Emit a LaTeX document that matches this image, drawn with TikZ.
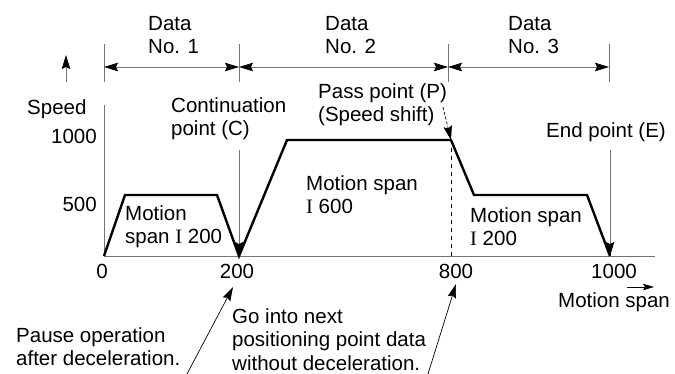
\documentclass[tikz,border=0pt]{standalone}
\usepackage{fontspec}
\setmainfont{Liberation Sans}
\newfontfamily\romanI{Liberation Serif}
\usetikzlibrary{arrows.meta}
\tikzset{
  dim/.style={black!55, line width=0.8pt},
  tip/.style={-{Stealth[black,length=14pt,width=8.5pt,inset=2pt]}},
  tips/.style={{Stealth[black,length=14pt,width=8.5pt,inset=2pt]}-{Stealth[black,length=14pt,width=8.5pt,inset=2pt]}},
  profile/.style={line width=2.4pt, line join=miter},
  lbl/.style={inner sep=0pt, align=left, anchor=north west},
  txt/.style={inner sep=0pt},
}
\begin{document}
\begin{tikzpicture}[x=1pt,y=-1pt,font=\fontsize{20.5}{23.5}\selectfont]
\useasboundingbox (0,0) rectangle (675,374);
% points on the speed curve
\coordinate (o) at (104,256);
\coordinate (c) at (239,256);
\coordinate (p) at (451,140);
\coordinate (pb) at (451,256);
\coordinate (e) at (610,256);
\coordinate (xend) at (655,256);
% data spans
\foreach \x/\n in {104/d0,239/d1,448/d2,609/d3}{
  \draw[dim] (\x,44) -- (\x,82);
  \coordinate (\n) at (\x,67);
}
\draw[dim,tips] (d0) -- (d1);
\draw[dim,tips] (d1) -- (d2);
\draw[dim,tips] (d2) -- (d3);
\node[lbl] (data1) at (148,16) {Data\\No. 1};
\node[lbl] (data2) at (325,16) {Data\\No. 2};
\node[lbl] (data3) at (508,16) {Data\\No. 3};
% axes
\coordinate (vtop) at (104,105);
\draw[dim] (vtop) -- (o) -- (xend);
\coordinate (sb) at (66,82);
\coordinate (st) at (66,55);
\draw[dim,tip] (sb) -- (st);
\node[txt,anchor=base west] (speed) at (27,115) {Speed};
\node[txt,anchor=base east] (v1000) at (97,144) {1000};
\node[txt,anchor=base east] (v500) at (97,212) {500};
\foreach \x/\t in {102/0,237/200,456/800,614/1000}
  \node[txt,anchor=base] (t\t) at (\x,279) {\t};
\coordinate (xa) at (627,287);
\coordinate (xb) at (654,287);
\draw[line width=0.8pt,-{Stealth[length=11pt,width=6.5pt,inset=2pt]}] (xa) -- (xb);
\node[txt,anchor=base west] (xlabel) at (558,308) {Motion span};
% speed curve
\draw[dashed,line width=0.8pt,dash pattern=on 4pt off 4pt] (p) -- (pb);
\draw[profile] (o) -- (125,195) -- (217,195) -- (c) -- (287,140) -- (p)
  -- (474,195) -- (587,195) -- (e);
\node[lbl] (span1) at (125,205) {Motion\\span {\romanI I} 200};
\node[lbl] (span2) at (306,175) {Motion span\\{\romanI I} 600};
\node[lbl] (span3) at (470,207) {Motion span\\{\romanI I} 200};
% marked points
\node[lbl] (cont) at (171,97) {Continuation\\point (C)};
\coordinate (ctop) at (239,150);
\draw[dim,tip] (ctop) -- (c);
\node[lbl] (pass) at (318,83) {Pass point (P)\\(Speed shift)};
\coordinate (ptop) at (443,107);
\draw[line width=0.7pt,dashed,dash pattern=on 3pt off 2pt,tip] (ptop) -- (p);
\node[txt,anchor=base west] (endpt) at (546,138) {End point (E)};
\coordinate (etop) at (610,150);
\draw[dim,tip] (etop) -- (e);
% notes below
\node[lbl] (pause) at (16,327) {Pause operation\\after deceleration.};
\coordinate (pz) at (187,374);
\draw[line width=0.7pt,tip] (pz) -- (233,287);
\node[lbl] (go) at (232,308) {Go into next\\positioning point data\\without deceleration.};
\coordinate (gz) at (428,374);
\draw[line width=0.7pt,tip] (gz) -- (456,284);
\end{tikzpicture}
\end{document}
